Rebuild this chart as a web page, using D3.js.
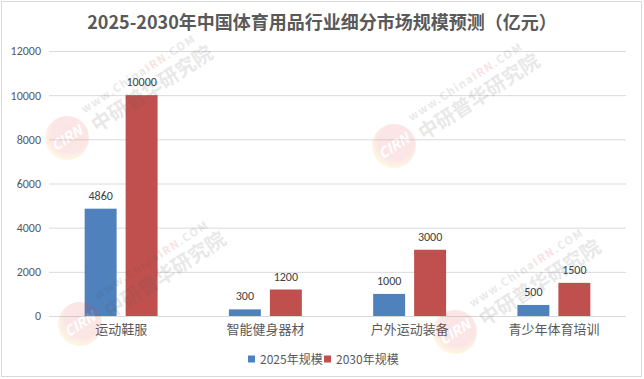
<!DOCTYPE html>
<html><head><meta charset="utf-8">
<script src="https://cdn.jsdelivr.net/npm/d3@7"></script>
<style>
html,body{margin:0;padding:0;background:#fff;}
svg{display:block;font-family:"Microsoft YaHei","Noto Sans CJK SC",sans-serif;}
</style></head>
<body>
<svg id="chart" width="644" height="379"></svg>
<script>
const title = "2025-2030年中国体育用品行业细分市场规模预测（亿元）";
const categories = ["运动鞋服", "智能健身器材", "户外运动装备", "青少年体育培训"];
const seriesNames = ["2025年规模", "2030年规模"];
const values2025 = [4860, 300, 1000, 500];
const values2030 = [10000, 1200, 3000, 1500];
const yTicks = [0, 2000, 4000, 6000, 8000, 10000, 12000];
const colors = ["#4F81BD", "#C0504D"];

(function(){
const svg = d3.select("#chart");
const W = 644, H = 379;
svg.append("rect").attr("x",1.5).attr("y",1.5).attr("width",W-4).attr("height",H-4)
  .attr("fill","#fff").attr("stroke","#d9d9d9").attr("stroke-width",1);

const mLeft = 49, mRight = 626, mTop = 51, mBottom = 316;
const y = d3.scaleLinear().domain([0, 12000]).range([mBottom, mTop]);
const x0 = d3.scaleBand().domain(categories).range([mLeft, mRight]).padding(0);
const x1 = d3.scaleBand().domain(seriesNames).range([0, x0.bandwidth()])
  .paddingInner(0.22).paddingOuter(0.87);

// title
svg.append("text").attr("x", 322).attr("y", 29).attr("text-anchor","middle")
  .attr("font-size", 18).attr("font-weight","bold").attr("fill","#595959").text(title);

// grid + y axis
const yAxis = d3.axisLeft(y).tickValues(yTicks).tickSize(-(mRight-mLeft)).tickPadding(8).tickFormat(d3.format("d"));
const ga = svg.append("g").attr("transform", `translate(${mLeft},0)`).call(yAxis);
ga.select(".domain").remove();
ga.selectAll(".tick line").attr("stroke","#d9d9d9");
ga.selectAll(".tick text").attr("fill","#595959").attr("font-size",12)
  .attr("font-family","Calibri,Carlito,'Noto Sans CJK SC',sans-serif");

// x axis labels
const xAxis = d3.axisBottom(x0).tickSize(0).tickPadding(9);
const gx = svg.append("g").attr("transform", `translate(0,${mBottom})`).call(xAxis);
gx.select(".domain").remove();
gx.selectAll(".tick text").attr("fill","#595959").attr("font-size",13)
  .attr("font-family","'Microsoft YaHei','Noto Sans CJK SC',sans-serif");

// bars
const data = categories.map((c,i)=>({cat:c, vals:[values2025[i], values2030[i]]}));
const groups = svg.append("g").selectAll("g").data(data).join("g")
  .attr("transform", d=>`translate(${x0(d.cat)},0)`);
groups.selectAll("rect").data(d=>d.vals.map((v,j)=>({s:seriesNames[j], v, j})))
  .join("rect")
  .attr("x", d=>x1(d.s)).attr("width", x1.bandwidth())
  .attr("y", d=>y(d.v)).attr("height", d=>mBottom - y(d.v))
  .attr("fill", d=>colors[d.j]);
groups.selectAll("text").data(d=>d.vals.map((v,j)=>({s:seriesNames[j], v, j})))
  .join("text")
  .attr("x", d=>x1(d.s)+x1.bandwidth()/2).attr("y", d=>y(d.v)-9)
  .attr("text-anchor","middle").attr("font-size",12).attr("fill","#404040")
  .attr("font-family","Calibri,Carlito,'Noto Sans CJK SC',sans-serif")
  .text(d=>d.v);

// legend
const legend = svg.append("g").attr("font-size",12).attr("fill","#595959");
const legItems = [{x:248, t:seriesNames[0], c:colors[0]}, {x:324, t:seriesNames[1], c:colors[1]}];
legItems.forEach(it=>{
  legend.append("rect").attr("x",it.x).attr("y",355.5).attr("width",7).attr("height",7).attr("fill",it.c);
  legend.append("text").attr("x",it.x+12).attr("y",364).attr("fill","#595959").text(it.t);
});

// watermarks
const defs = svg.append("defs");
const rg = defs.append("radialGradient").attr("id","wmg").attr("cx","60%").attr("cy","45%").attr("r","60%");
rg.append("stop").attr("offset","0%").attr("stop-color","#e0303a");
rg.append("stop").attr("offset","70%").attr("stop-color","#e84848");
rg.append("stop").attr("offset","100%").attr("stop-color","#f5d020");
const wmPos = [[67,138],[80,324],[394,146],[455,332]];
wmPos.forEach(([cx,cy])=>{
  const g = svg.append("g").attr("transform",`translate(${cx},${cy}) rotate(-33)`).attr("opacity",0.13);
  g.append("circle").attr("r",22).attr("fill","url(#wmg)");
  g.append("text").attr("x",0).attr("y",5).attr("text-anchor","middle").attr("font-size",14)
    .attr("font-weight","bold").attr("font-style","italic").attr("fill","#fff").text("CIRN");
  const t = g.append("text").attr("x",28).attr("y",-11).attr("font-size",11).attr("font-weight","bold")
    .attr("fill","#555").attr("letter-spacing",1.5);
  t.append("tspan").text("www.China");
  t.append("tspan").attr("fill","#d02020").text("IRN");
  t.append("tspan").text(".COM");
  g.append("text").attr("x",28).attr("y",12).attr("font-size",20).attr("font-weight","bold")
    .attr("fill","#555").text("中研普华研究院");
});
})();
</script>
</body></html>
